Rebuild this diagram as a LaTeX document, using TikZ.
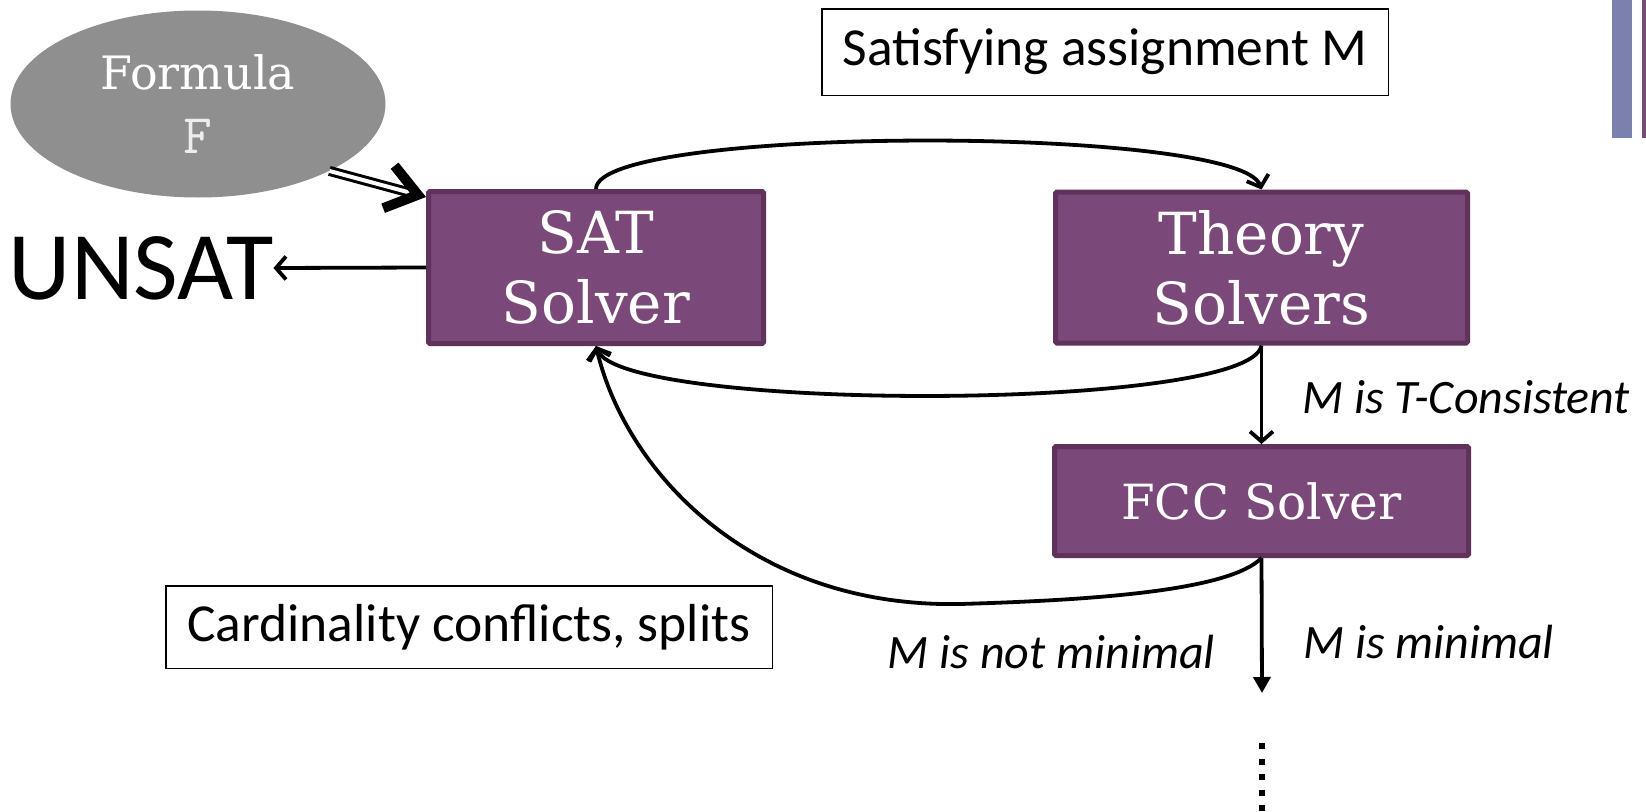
\documentclass[tikz,border=0pt]{standalone}
\usepackage{fontspec}
\setmainfont{Carlito}
\newfontfamily\slab{DejaVu Serif}
\usetikzlibrary{shapes.geometric,arrows.meta,calc}
\definecolor{boxfill}{RGB}{122,72,121}
\definecolor{boxedge}{RGB}{94,50,90}
\definecolor{ovalgray}{RGB}{143,143,143}
\definecolor{barblue}{RGB}{123,128,173}
\begin{document}
\begin{tikzpicture}[x=1pt,y=-1pt,
  solver/.style={rectangle, fill=boxfill, draw=boxedge, line width=5pt,
    rounded corners=1.5pt, text=white, align=center, inner sep=0pt,
    font=\slab\fontsize{58}{70}\selectfont},
  flow/.style={line width=3.8pt, -{Straight Barb[length=10pt,width=23pt]}},
  note/.style={draw=black, line width=1.5pt, inner sep=0pt,
    font=\fontsize{53.5}{60}\selectfont},
  cond/.style={font=\itshape\fontsize{48}{54}\selectfont, inner sep=0pt}]

% page frame
\fill[white] (0,0) rectangle (1646,811);
\useasboundingbox (0,0) rectangle (1646,811);

% side bars at the top right
\fill[barblue] (1612,0) rectangle (1632,138);
\fill[boxfill] (1642,0) rectangle (1646,138);

% input formula
\node[ellipse, fill=ovalgray, minimum width=375, minimum height=187, inner sep=0pt,
      text=white, align=center, font=\slab\fontsize{46}{64}\selectfont] (ell) at (198,104)
  {Formula\\{\ttfamily\fontsize{56}{58}\selectfont\color{white!93!black}F}};

% solvers
\node[solver, minimum width=335, minimum height=152] (sat) at (596,267.5) {SAT\\Solver};
\node[solver, minimum width=412, minimum height=151] (th) at (1261.5,267.5) {Theory\\Solvers};
\node[solver, minimum width=414, minimum height=109,
      font=\slab\fontsize{48.5}{56}\selectfont] (fcc) at (1261.5,501) {FCC Solver};

% outputs and notes
\node[font=\fontsize{97}{100}\selectfont, inner sep=0pt] (unsat) at (141,268) {UNSAT};
\node[note, minimum width=566.5, minimum height=86.5] (sa) at (1105,52) {Satisfying assignment M};
\node[note, minimum width=606.5, minimum height=82.5] (cc) at (469,627) {Cardinality conflicts, splits};

\node[cond, anchor=west] (tc) at (1302,397) {M is T-Consistent};
\node[cond, anchor=west] (mm) at (1303,642) {M is minimal};
\node[cond, anchor=east] (nm) at (1215,652) {M is not minimal};

\coordinate (tip) at ([yshift=-8pt]sat.north west);
\coordinate (low) at (960,604);
\coordinate (down) at (1262,693);
\coordinate (dtop) at (1262,743);
\coordinate (dbot) at (1262,811);

% formula enters the SAT solver
\draw[line width=3pt, double distance=4pt, shorten >=10pt] (ell.-27) -- (tip);
\draw[dash pattern=on 0pt off 2000pt,
      -{Straight Barb[length=30pt,width=44pt,line width=10pt]}] (ell.-27) -- (tip);

% main loop
\draw[flow] (sat.west) -- (unsat.east);
\draw[flow] (sat.north) .. controls (596,125) and (1240,125) .. (th.north);
\draw[flow] (th.south) .. controls (1250,412) and (620,412) .. (sat.south);
\draw[flow] (th.south) -- (fcc.north);
\draw[flow] (fcc.south) .. controls (1230,590) and (1100,600) .. (low)
                        .. controls (750,608) and (625,470) .. (sat.south);
\draw[line width=3.8pt, -{Triangle[length=16pt,width=17pt]}] (fcc.south) -- (down);
\draw[line width=6pt, dash pattern=on 6pt off 9.5pt] (dtop) -- (dbot);
\end{tikzpicture}
\end{document}
